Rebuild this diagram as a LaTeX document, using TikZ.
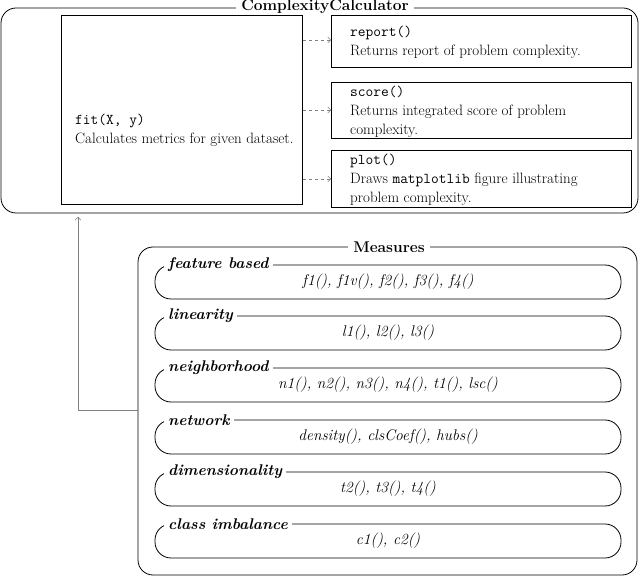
\documentclass[tikz,border=0pt]{standalone}
\usetikzlibrary{arrows.meta}
\begin{document}
\begin{tikzpicture}[x=1pt,y=-1pt,
  box/.style={draw,line width=0.8pt},
  grp/.style={draw,line width=0.8pt,rounded corners=15pt},
  ttl/.style={fill=white,inner xsep=5pt,inner ysep=2pt,font=\fontsize{15.5}{18}\selectfont\bfseries},
  sub/.style={fill=white,inner xsep=4pt,inner ysep=1pt,font=\fontsize{15.5}{18}\selectfont\bfseries\itshape,anchor=west},
  txt/.style={font=\fontsize{15}{19}\selectfont,align=left,anchor=north west,inner sep=0pt},
  cnt/.style={font=\fontsize{15.5}{18}\selectfont\itshape},
  dasharr/.style={draw=gray,dashed,-{Straight Barb[length=3pt]}},
  conn/.style={draw=gray,-{Straight Barb[length=3pt]}}]
\useasboundingbox (0,0) rectangle (640,577);
% Complexity calculator
\draw[grp] (1,8) rectangle (638,213);
\node[ttl] (cct) at (325,7) {ComplexityCalculator};
\node[box,minimum width=241pt,minimum height=189pt,anchor=north west] (fit) at (61,15) {};
\node[txt] (fitt) at (75,114) {\texttt{fit(X, y)}\\Calculates metrics for given dataset.};
\node[box,minimum width=300pt,minimum height=52pt,anchor=north west] (rep) at (331,15) {};
\node[txt] (rept) at (350,26) {\texttt{report()}\\Returns report of problem complexity.};
\node[box,minimum width=300pt,minimum height=56pt,anchor=north west] (sco) at (331,82) {};
\node[txt] (scot) at (350,86) {\texttt{score()}\\Returns integrated score of problem\\complexity.};
\node[box,minimum width=300pt,minimum height=57pt,anchor=north west] (plo) at (331,150) {};
\node[txt] (plot) at (350,154) {\texttt{plot()}\\Draws \texttt{matplotlib} figure illustrating\\problem complexity.};
\draw[dasharr] (fit.east |- 0,40) -- (rep.west |- 0,40);
\draw[dasharr] (fit.east |- 0,110) -- (sco.west |- 0,110);
\draw[dasharr] (fit.east |- 0,179) -- (plo.west |- 0,179);
% Measures
\draw[grp] (138,247) rectangle (637,575);
\node[ttl] (mt) at (389,247) {Measures};
\coordinate (m) at (138,410);
\coordinate (mc) at (78,410);
\draw[conn] (m) -- (mc) -- (78,217);
\foreach \y/\n/\c in {265/feature based/{f1(), f1v(), f2(), f3(), f4()},
  316/linearity/{l1(), l2(), l3()},
  368/neighborhood/{n1(), n2(), n3(), n4(), t1(), lsc()},
  420/network/{density(), clsCoef(), hubs()},
  472/dimensionality/{t2(), t3(), t4()},
  524/class imbalance/{c1(), c2()}}{
  \draw[line width=0.8pt,rounded corners=16pt] (155,\y) rectangle (621,\y+34);
  \node[sub] at (164,\y) {\n};
  \node[cnt] at (388,\y+17) {\c};
}
\end{tikzpicture}
\end{document}
